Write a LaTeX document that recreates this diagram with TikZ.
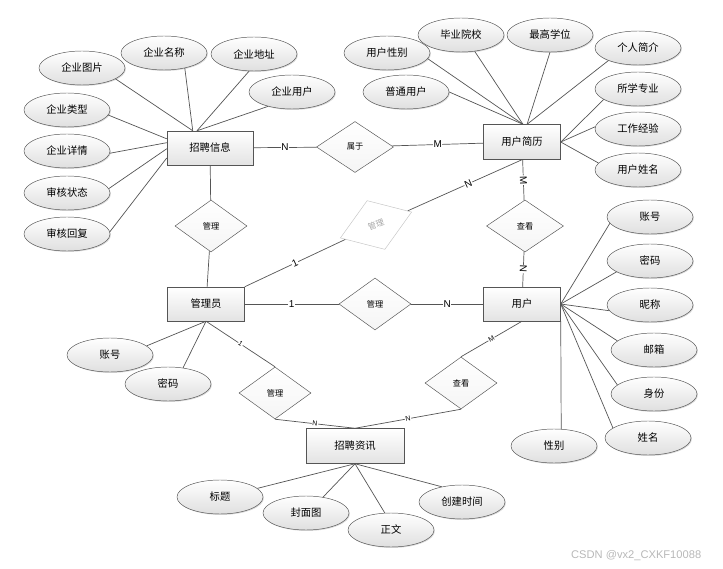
\documentclass[tikz,border=0pt]{standalone}
\usepackage{fontspec}
\setmainfont{Liberation Sans}
\newfontfamily\cjk{Noto Sans CJK SC}
\usetikzlibrary{shapes.geometric, shadows}
\definecolor{edgegray}{HTML}{555555}
\definecolor{markgray}{HTML}{B8B8B8}

\begin{document}
\begin{tikzpicture}[x=0.03cm, y=-0.03cm,
  soft/.style={drop shadow={shadow xshift=0.8pt, shadow yshift=-0.8pt, opacity=0.3}},
  entity/.style={draw=edgegray, top color=white, bottom color=gray!22, minimum width=2.31cm, minimum height=1.02cm, inner sep=1pt, font=\cjk\fontsize{8.8}{10}\selectfont, soft},
  attr/.style={ellipse, draw=edgegray, top color=white, bottom color=gray!25, minimum width=2.58cm, minimum height=1.02cm, inner sep=0pt, font=\cjk\fontsize{8.8}{10}\selectfont, soft},
  rel/.style={diamond, draw=edgegray, top color=white, bottom color=gray!8, minimum width=2.16cm, minimum height=1.56cm, inner sep=0pt, font=\cjk\fontsize{7}{8}\selectfont},
  link/.style={draw=edgegray, line width=0.6pt},
  card/.style={fill=white, inner sep=0.5pt, font=\fontsize{8.5}{9}\selectfont},
  smallcard/.style={card, font=\fontsize{6}{7}\selectfont}]
\useasboundingbox (0,0) rectangle (723,569);

\node[entity, minimum width=2.58cm] (zpxx) at (210,148) {招聘信息};
\node[entity, minimum height=1.05cm] (yhjl) at (522,142) {用户简历};
\node[entity] (gly) at (206,304) {管理员};
\node[entity] (yh) at (522,304) {用户};
\node[entity, minimum width=2.94cm, minimum height=1.05cm] (zpzx) at (355,446) {招聘资讯};

\node[rel, minimum width=2.31cm, minimum height=1.53cm] (sy) at (355,147) {属于};
\node[rel] (gl1) at (211,226) {管理};
\node[rel, draw=gray!45, text=gray!70, top color=white, bottom color=white, rotate=20, minimum width=2.28cm] (gl2) at (376,225) {管理};
\node[rel, minimum width=2.31cm] (ck1) at (525,226) {查看};
\node[rel] (gl3) at (375,304) {管理};
\node[rel] (gl4) at (275,393) {管理};
\node[rel] (ck2) at (461,383) {查看};

\foreach \n/\x/\y/\t in {qytp/82/68/企业图片, qymc/164/53/企业名称, qydz/254/54/企业地址, qyyh/292/92/企业用户,
    qylx/67/110/企业类型, qyxq/67/151/企业详情, shzt/67/193/审核状态, shhf/67/234/审核回复,
    yhxb/387/53/用户性别, byyx/461/35/毕业院校, zgxw/550/35/最高学位, grjj/638/48/个人简介,
    ptyh/406/92/普通用户, sxzy/638/89/所学专业, gzjy/638/129/工作经验, yhxm/638/170/用户姓名,
    zh/650/217/账号, mm/650/261/密码, nc/650/305/昵称, yx/654/350/邮箱, sf/654/394/身份, xm/648/438/姓名, xb/554/446/性别,
    glzh/110/355/账号, glmm/168/384/密码,
    bt/220/497/标题, fmt/306/513/封面图, zw/391/530/正文, cjsj/462/502/创建时间}
  {\node[attr] (\n) at (\x,\y) {\t};}

\foreach \n/\s/\e in {qytp/-18/135, qymc/-36/135, qydz/-106/127, qyyh/-149/127,
    qylx/-7/168, qyxq/-3/173, shzt/6/181, shhf/3/193}
  {\draw[link] (\n.\s) -- (zpxx.\e);}
\foreach \n/\s/\e in {yhxb/-8/87, byyx/-50/87, ptyh/0/87, zgxw/-90/74, grjj/203/74,
    sxzy/197/0, gzjy/177/0, yhxm/170/0}
  {\draw[link] (\n.\s) -- (yhjl.\e);}
\foreach \n/\s in {zh/189, mm/198, nc/188, yx/166, sf/166, xm/164}
  {\draw[link] (\n.\s) -- (yh.east);}
\draw[link] (xb.67) -- (yh.south east);
\foreach \n/\s in {glzh/14, glmm/47}
  {\draw[link] (\n.\s) -- (gly.south);}
\foreach \n/\s in {bt/13, fmt/43, zw/110, cjsj/143}
  {\draw[link] (\n.\s) -- (zpzx.south);}

\draw[link] (zpxx) -- node[card] {N} (sy);
\draw[link] (sy) -- node[card] {M} (yhjl);
\draw[link] (zpxx) -- (gl1);
\draw[link] (gl1) -- (gly);
\draw[link] (gly.north east) -- node[card, sloped] {1} (gl2);
\draw[link] (gl2) -- node[card, sloped, pos=0.53] {N} (yhjl.south);
\draw[link] (ck1) -- node[card, sloped] {M} (yhjl);
\draw[link] (ck1) -- node[card, sloped] {N} (yh);
\draw[link] (gly) -- node[card] {1} (gl3);
\draw[link] (gl3) -- node[card] {N} (yh);
\draw[link] (gly.south) -- node[smallcard, sloped] {1} (gl4.north);
\draw[link] (gl4.south) -- node[smallcard, sloped] {N} (zpzx.north);
\draw[link] (yh.south) -- node[smallcard, sloped] {M} (ck2.north);
\draw[link] (ck2.south) -- node[smallcard, sloped] {N} (zpzx.north);

\node[text=markgray, anchor=west, font=\fontsize{9.5}{11}\selectfont] (wm) at (567,556) {CSDN @vx2\_CXKF10088};
\end{tikzpicture}
\end{document}
